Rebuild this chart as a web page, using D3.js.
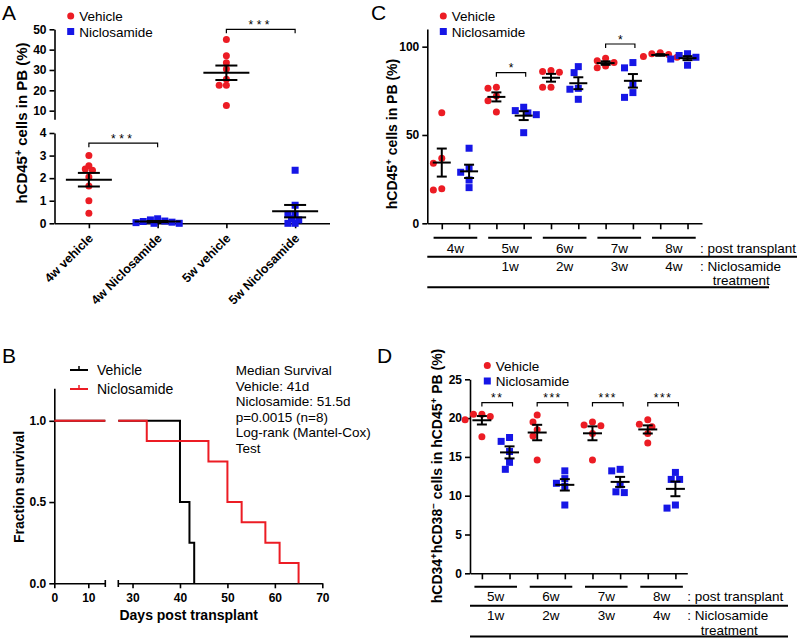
<!DOCTYPE html>
<html><head><meta charset="utf-8">
<script src="https://cdn.jsdelivr.net/npm/d3@7"></script>
<style>
body{margin:0;background:#fff;}
svg{display:block;}
</style></head><body>
<svg id="chart" width="800" height="638"></svg>
<script>
// ================= DATA =================
const seriesNames = ["Vehicle", "Niclosamide"];

// Panel A: hCD45+ cells in PB (%)
const catsA = ["4w vehicle", "4w Niclosamide", "5w vehicle", "5w Niclosamide"];
const a4wVehicle = [3.0, 2.55, 2.4, 2.35, 2.05, 1.65, 1.0, 0.45];
const a4wNiclosamide = [0.2, 0.15, 0.1, 0.08, 0.05, 0.03, 0.0, 0.0];
const a5wVehicle = [45, 37, 33.5, 30.5, 25.5, 22.5, 22.5, 12.5];
const a5wNiclosamide = [2.35, 0.8, 0.4, 0.4, 0.2, 0.15, 0.0, 0.0];
const ticksALow = [0, 1, 2, 3, 4];
const ticksAHigh = [10, 20, 30, 40, 50];
const sigA = [
  {from: "4w vehicle", to: "4w Niclosamide", y: 3.55, label: "***"},
  {from: "5w vehicle", to: "5w Niclosamide", y: 50, label: "***"}
];

// Panel B: Kaplan-Meier survival
const vehicleTimes = [0, 40, 42, 43];
const vehicleSurv = [1.0, 0.5, 0.25, 0.0];
const niclosamideTimes = [0, 33, 46, 50, 53, 58, 61, 65];
const niclosamideSurv = [1.0, 0.875, 0.75, 0.5, 0.375, 0.25, 0.125, 0.0];
const ticksBY = [0, 0.5, 1.0];
const ticksBX1 = [0, 10];
const ticksBX2 = [30, 40, 50, 60, 70];
const survivalNotes = ["Median Survival", "Vehicle: 41d", "Niclosamide: 51.5d",
  "p=0.0015 (n=8)", "Log-rank (Mantel-Cox)", "Test"];

// Panel C: hCD45+ cells in PB (%) over time
const weeksC = ["4w", "5w", "6w", "7w", "8w"];
const treatC = ["", "1w", "2w", "3w", "4w"];
const vehicleC = [
  [62.6, 36.8, 34, 19.6, 18.9],
  [77, 76.4, 72, 69.4, 63],
  [86.5, 86, 85.5, 77, 77],
  [93.5, 92, 91, 89, 88],
  [96.5, 96, 95.5, 94.5, 94]
];
const niclosamideC = [
  [42.5, 31, 28.9, 24.5, 20.2],
  [65.7, 63.8, 62.5, 61.5, 51.3],
  [88.7, 85.3, 76.4, 75.9, 70.2],
  [91, 88, 79, 74, 71.3],
  [96, 95, 94, 93, 89.5]
];
const ticksCY = [0, 50, 100];
const sigC = [{week: "5w", y: 85.3, label: "*"}, {week: "7w", y: 101.5, label: "*"}];

// Panel D: hCD34+hCD38- cells in hCD45+ PB (%)
const weeksD = ["5w", "6w", "7w", "8w"];
const treatD = ["1w", "2w", "3w", "4w"];
const vehicleD = [
  [20.5, 20.5, 20.2, 19.8, 17.6],
  [20.4, 19.5, 18.5, 17.7, 14.6],
  [19.5, 19.1, 19.0, 18.0, 14.6],
  [19.8, 19.2, 18.9, 18.0, 16.8]
];
const niclosamideD = [
  [17.5, 17.0, 15.7, 14.3, 13.4],
  [13.2, 12.2, 11.6, 11.2, 8.8],
  [13.4, 13.2, 11.4, 10.5, 10.4],
  [13.0, 12.1, 12.1, 8.4, 8.8]
];
const ticksDY = [0, 5, 10, 15, 20, 25];
const sigD = [
  {week: "5w", y: 22, label: "**"}, {week: "6w", y: 22, label: "***"},
  {week: "7w", y: 22, label: "***"}, {week: "8w", y: 22, label: "***"}
];

// ================= DRAWING =================
const FONT = '"Liberation Sans", Arial, Helvetica, sans-serif';
const RED = "#ec1c24", BLUE = "#1616e6";
const R = 3.5, SQ = 7;
const svg = d3.select("#chart").attr("font-family", FONT);

function styleAxis(sel) {
  sel.selectAll("path.domain").attr("stroke", "#000").attr("stroke-width", 1.6);
  sel.selectAll(".tick line").attr("stroke", "#000").attr("stroke-width", 1.6);
  sel.selectAll(".tick text").attr("font-family", FONT).attr("font-size", 12)
    .attr("font-weight", "bold").attr("fill", "#000");
  return sel;
}

function txt(g, x, y, s, opts = {}) {
  return g.append("text").attr("x", x).attr("y", y).text(s)
    .attr("font-size", opts.size || 13.5)
    .attr("font-weight", opts.bold ? "bold" : "normal")
    .attr("text-anchor", opts.anchor || "start")
    .attr("fill", "#000");
}

function rotLabel(g, cx, cy, parts, size) {
  const t = g.append("text").attr("transform", `translate(${cx},${cy}) rotate(-90)`)
    .attr("text-anchor", "middle").attr("font-size", size).attr("font-weight", "bold");
  let shifted = false;
  parts.forEach(([s, sup]) => {
    const ts = t.append("tspan").text(s);
    if (sup) { ts.attr("font-size", size * 0.7).attr("dy", shifted ? 0 : -5); shifted = true; }
    else if (shifted) { ts.attr("dy", 5); shifted = false; }
  });
  return t;
}

function swarm(vals, yf, minDist, stepX) {
  const pts = vals.map(v => ({v, py: yf(v)})).sort((a, b) => b.v - a.v);
  const placed = [];
  pts.forEach(p => {
    for (let k = 0; k < 60; k++) {
      const off = k === 0 ? 0 : (k % 2 ? -1 : 1) * Math.ceil(k / 2) * stepX;
      if (placed.every(q => Math.hypot(q.dx - off, q.py - p.py) >= minDist)) { p.dx = off; break; }
    }
    placed.push(p);
  });
  return placed;
}

function marker(g, x, y, shape, color) {
  if (shape === "circle") g.append("circle").attr("cx", x).attr("cy", y).attr("r", R).attr("fill", color);
  else g.append("rect").attr("x", x - SQ / 2).attr("y", y - SQ / 2).attr("width", SQ).attr("height", SQ).attr("fill", color);
}

function drawGroup(g, vals, cx, yf, shape, color, meanHalf, capHalf, stepX, minDist) {
  swarm(vals, yf, minDist, stepX).forEach(p => marker(g, cx + p.dx, p.py, shape, color));
  const m = d3.mean(vals), se = d3.deviation(vals) / Math.sqrt(vals.length);
  const ln = (x1, y1, x2, y2) => g.append("line").attr("x1", x1).attr("y1", y1).attr("x2", x2).attr("y2", y2)
    .attr("stroke", "#000").attr("stroke-width", 2);
  ln(cx - meanHalf, yf(m), cx + meanHalf, yf(m));
  ln(cx, yf(m - se), cx, yf(m + se));
  ln(cx - capHalf, yf(m + se), cx + capHalf, yf(m + se));
  ln(cx - capHalf, yf(m - se), cx + capHalf, yf(m - se));
}

function bracket(g, x1, x2, y, label, spacing) {
  g.append("path").attr("d", `M${x1},${y + 4}V${y}H${x2}V${y + 4}`)
    .attr("fill", "none").attr("stroke", "#000").attr("stroke-width", 1.2);
  g.append("text").attr("x", (x1 + x2) / 2).attr("y", y - 0.5).attr("text-anchor", "middle")
    .attr("font-size", 12).attr("letter-spacing", spacing).text(label);
}

function legendDots(g, x, y1, y2) {
  marker(g, x, y1, "circle", RED);
  marker(g, x, y2, "square", BLUE);
  txt(g, x + 8.5, y1 + 5, seriesNames[0], {size: 13.5});
  txt(g, x + 8.5, y2 + 5, seriesNames[1], {size: 13.5});
}

function panelLetter(x, y, s) {
  svg.append("text").attr("x", x).attr("y", y).attr("font-size", 21).text(s);
}

// ---------- Panel A ----------
{
  const g = svg.append("g");
  panelLetter(2, 20, "A");
  const xA = d3.scalePoint().domain(catsA).range([54.5, 329.5]).padding(0.5);
  const yLow = d3.scaleLinear().domain([0, 4]).range([223.3, 133]);
  const yHigh = d3.scaleLinear().domain([5.8, 50]).range([119.2, 29.3]);
  const yA = v => v > 4.5 ? yHigh(v) : yLow(v);

  styleAxis(g.append("g").attr("transform", "translate(54.5,0)")
    .call(d3.axisLeft(yLow).tickValues(ticksALow).tickFormat(d3.format("d")).tickSize(5).tickSizeOuter(0).tickPadding(3)));
  styleAxis(g.append("g").attr("transform", "translate(54.5,0)")
    .call(d3.axisLeft(yHigh).tickValues(ticksAHigh).tickFormat(d3.format("d")).tickSize(5).tickSizeOuter(0).tickPadding(3)));
  const xa = styleAxis(g.append("g").attr("transform", "translate(0,223.3)")
    .call(d3.axisBottom(xA).tickSize(5).tickSizeOuter(0)));
  xa.selectAll(".tick text").remove();
  catsA.forEach(c => {
    g.append("text").attr("transform", `translate(${xA(c) + 5},239) rotate(-45)`)
      .attr("text-anchor", "end").attr("font-size", 12.5).attr("font-weight", "bold").text(c);
  });

  const groups = [a4wVehicle, a4wNiclosamide, a5wVehicle, a5wNiclosamide];
  groups.forEach((vals, i) => {
    const veh = i % 2 === 0;
    drawGroup(g, vals, xA(catsA[i]), yA, veh ? "circle" : "square", veh ? RED : BLUE, 23, 11, 3.6, 4.6);
  });
  sigA.forEach(s => bracket(g, xA(s.from), xA(s.to), yA(s.y), s.label, 3.5));

  legendDots(g, 70.7, 16, 31.5);
  rotLabel(g, 27, 123, [["hCD45", false], ["+", true], [" cells in PB (%)", false]], 15);
}

// ---------- Panel C ----------
{
  const g = svg.append("g");
  panelLetter(371, 20, "C");
  const keys = weeksC.flatMap(w => [w + " " + seriesNames[0], w + " " + seriesNames[1]]);
  const xC = d3.scalePoint().domain(keys).range([427.3, 702]).padding(0.53);
  const yC = d3.scaleLinear().domain([0, 110]).range([223.3, 29]);
  styleAxis(g.append("g").attr("transform", "translate(427.3,0)")
    .call(d3.axisLeft(yC).tickValues(ticksCY).tickSize(5).tickSizeOuter(0).tickPadding(3)));
  const xa = styleAxis(g.append("g").attr("transform", "translate(0,223.3)")
    .call(d3.axisBottom(xC).tickSize(6).tickSizeOuter(0)));
  xa.selectAll(".tick text").remove();

  weeksC.forEach((w, i) => {
    const xv = xC(w + " " + seriesNames[0]), xn = xC(w + " " + seriesNames[1]);
    drawGroup(g, vehicleC[i], xv, yC, "circle", RED, 9, 5, 4.2, 2 * R);
    drawGroup(g, niclosamideC[i], xn, yC, "square", BLUE, 9, 5, 4.2, 2 * R);
    const mid = (xv + xn) / 2, half = xC.step() * 0.8;
    g.append("line").attr("x1", mid - half).attr("x2", mid + half).attr("y1", 237.7).attr("y2", 237.7)
      .attr("stroke", "#000").attr("stroke-width", 2);
    txt(g, mid, 253.3, w, {anchor: "middle"});
    if (treatC[i]) txt(g, mid, 270.5, treatC[i], {anchor: "middle"});
  });
  sigC.forEach(s => bracket(g, xC(s.week + " " + seriesNames[0]), xC(s.week + " " + seriesNames[1]) + 2, yC(s.y), s.label, 0));
  txt(g, 700, 253.3, ": post transplant");
  txt(g, 700, 270.5, ": Niclosamide");
  txt(g, 712.7, 285, "treatment");
  g.append("line").attr("x1", 427.3).attr("x2", 797).attr("y1", 256.7).attr("y2", 256.7).attr("stroke", "#000").attr("stroke-width", 2);
  g.append("line").attr("x1", 427.3).attr("x2", 769).attr("y1", 287.3).attr("y2", 287.3).attr("stroke", "#000").attr("stroke-width", 2);

  legendDots(g, 443.3, 16, 31.5);
  rotLabel(g, 397, 134, [["hCD45", false], ["+", true], [" cells in PB (%)", false]], 14);
}

// ---------- Panel B ----------
{
  const g = svg.append("g");
  panelLetter(2, 363, "B");
  const yB = d3.scaleLinear().domain([0, 1.2]).range([583.3, 388.3]);
  const x1 = d3.scaleLinear().domain([0, 15]).range([54.3, 105.3]);
  const x2 = d3.scaleLinear().domain([27, 70]).range([118.3, 322.3]);
  styleAxis(g.append("g").attr("transform", "translate(54.3,0)")
    .call(d3.axisLeft(yB).tickValues(ticksBY).tickFormat(d3.format(".1f")).tickSize(5).tickSizeOuter(0).tickPadding(3)));
  styleAxis(g.append("g").attr("transform", "translate(0,583.3)")
    .call(d3.axisBottom(x1).tickValues(ticksBX1).tickSize(5).tickSizeOuter(0).tickPadding(5)));
  styleAxis(g.append("g").attr("transform", "translate(0,583.3)")
    .call(d3.axisBottom(x2).tickValues(ticksBX2).tickSize(5).tickSizeOuter(0).tickPadding(5)));
  // break end marks
  [x1(15), x2(27)].forEach(px => g.append("line").attr("x1", px).attr("x2", px).attr("y1", 580).attr("y2", 587)
    .attr("stroke", "#000").attr("stroke-width", 1.6));

  function stepPts(times, surv, t0) {
    const pts = [];
    let cur = surv[0];
    times.forEach((t, i) => { if (t <= t0) cur = surv[i]; });
    pts.push([t0, cur]);
    times.forEach((t, i) => {
      if (t > t0) { pts.push([t, cur]); cur = surv[i]; pts.push([t, cur]); }
    });
    return pts;
  }
  const curves = [
    {times: vehicleTimes, surv: vehicleSurv, color: "#000"},
    {times: niclosamideTimes, surv: niclosamideSurv, color: RED}
  ];
  curves.forEach(c => {
    const seg1 = [[0, c.surv[0]], [15, c.surv[0]]];
    g.append("path").attr("d", d3.line().x(d => x1(d[0])).y(d => yB(d[1]))(seg1))
      .attr("fill", "none").attr("stroke", c.color).attr("stroke-width", 2);
    g.append("path").attr("d", d3.line().x(d => x2(d[0])).y(d => yB(d[1]))(stepPts(c.times, c.surv, 27)))
      .attr("fill", "none").attr("stroke", c.color).attr("stroke-width", 2);
  });

  // legend
  [[370, "#000", seriesNames[0]], [389, RED, seriesNames[1]]].forEach(([y, col, name]) => {
    g.append("line").attr("x1", 70).attr("x2", 88).attr("y1", y).attr("y2", y).attr("stroke", col).attr("stroke-width", 2);
    g.append("line").attr("x1", 79).attr("x2", 79).attr("y1", y).attr("y2", y - 4).attr("stroke", col).attr("stroke-width", 1.5);
    txt(g, 97, y + 5, name, {size: 14});
  });
  survivalNotes.forEach((s, i) => txt(g, 235.7, 375 + i * 15.6, s));

  txt(g, 188.7, 620, "Days post transplant", {bold: true, anchor: "middle", size: 14});
  rotLabel(g, 23.5, 487, [["Fraction survival", false]], 14);
}

// ---------- Panel D ----------
{
  const g = svg.append("g");
  panelLetter(377, 363, "D");
  const keys = weeksD.flatMap(w => [w + " " + seriesNames[0], w + " " + seriesNames[1]]);
  const xD = d3.scalePoint().domain(keys).range([470, 687.3]).padding(0.43);
  const yD = d3.scaleLinear().domain([0, 25]).range([573.3, 379.3]);
  styleAxis(g.append("g").attr("transform", "translate(470,0)")
    .call(d3.axisLeft(yD).tickValues(ticksDY).tickSize(5).tickSizeOuter(0).tickPadding(3)));
  const xa = styleAxis(g.append("g").attr("transform", "translate(0,573.3)")
    .call(d3.axisBottom(xD).tickSize(6).tickSizeOuter(0)));
  xa.selectAll(".tick text").remove();

  weeksD.forEach((w, i) => {
    const xv = xD(w + " " + seriesNames[0]), xn = xD(w + " " + seriesNames[1]);
    drawGroup(g, vehicleD[i], xv, yD, "circle", RED, 9.5, 5, 4.2, 2 * R);
    drawGroup(g, niclosamideD[i], xn, yD, "square", BLUE, 9.5, 5, 4.2, 2 * R);
    const mid = (xv + xn) / 2, half = xD.step() * 0.77;
    g.append("line").attr("x1", mid - half).attr("x2", mid + half).attr("y1", 586.7).attr("y2", 586.7)
      .attr("stroke", "#000").attr("stroke-width", 2);
    txt(g, mid, 601, w, {anchor: "middle"});
    txt(g, mid, 620, treatD[i], {anchor: "middle"});
  });
  sigD.forEach(s => bracket(g, xD(s.week + " " + seriesNames[0]), xD(s.week + " " + seriesNames[1]) + 3, yD(s.y), s.label, 1.5));
  txt(g, 687.3, 601, ": post transplant");
  txt(g, 687.3, 620, ": Niclosamide");
  txt(g, 700.7, 635, "treatment");
  g.append("line").attr("x1", 470).attr("x2", 788).attr("y1", 605.7).attr("y2", 605.7).attr("stroke", "#000").attr("stroke-width", 2);
  g.append("line").attr("x1", 470).attr("x2", 788).attr("y1", 636.5).attr("y2", 636.5).attr("stroke", "#000").attr("stroke-width", 2);

  legendDots(g, 487.3, 365.5, 381);
  rotLabel(g, 441.5, 476, [["hCD34", false], ["+", true], ["hCD38", false], ["\u2212", true],
    [" cells in hCD45", false], ["+", true], [" PB (%)", false]], 14);
}
</script>
</body></html>
